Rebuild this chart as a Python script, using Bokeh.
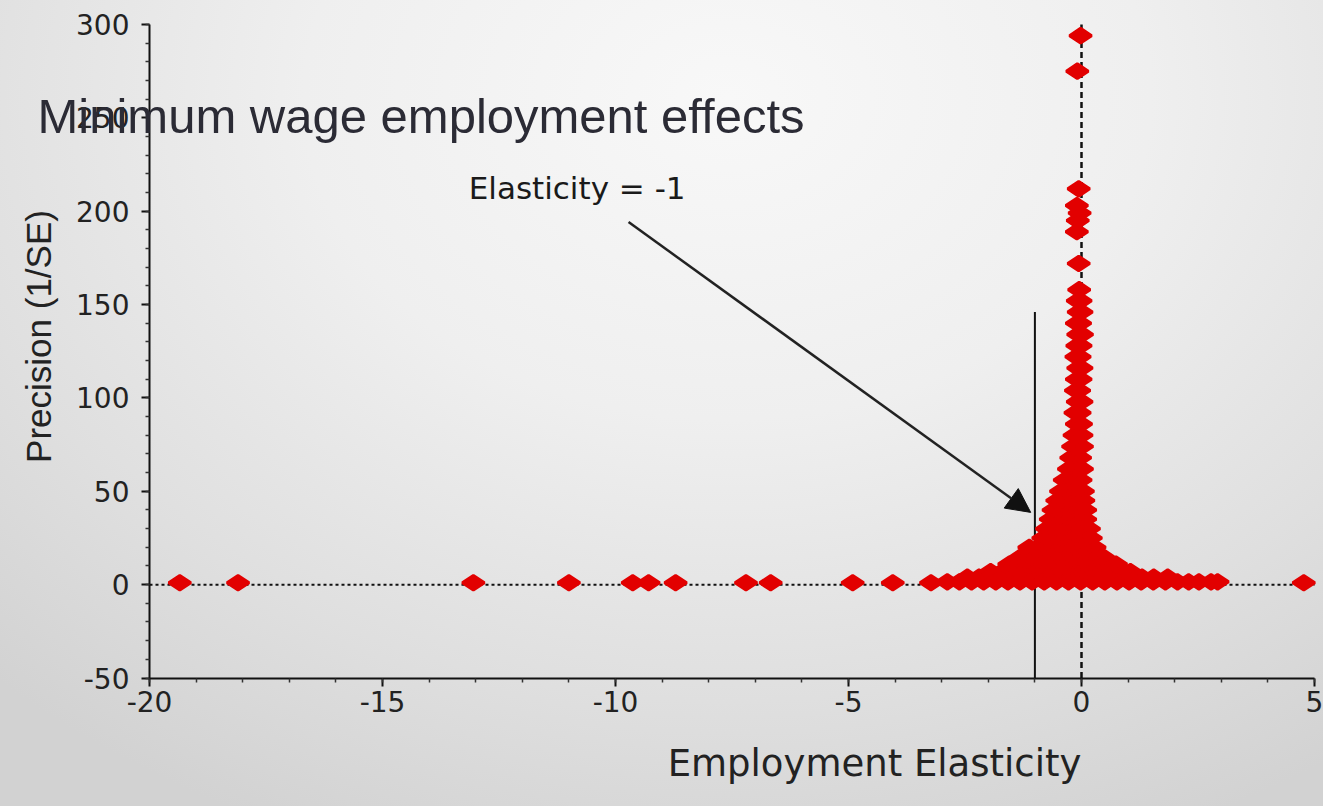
import math

from bokeh.embed import file_html
from bokeh.models import (Arrow, ColumnDataSource, Label, NormalHead,
                          PrintfTickFormatter, Range1d, SingleIntervalTicker)
from bokeh.plotting import figure
from bokeh.resources import INLINE

# ---- estimates: employment elasticity (x) vs precision 1/SE (y) ----
# isolated estimates lying along the zero-precision line
outlier_x = [-19.35, -18.1, -13.05, -11.0, -9.63, -9.29, -8.71, -7.2, -6.67,
             -4.91, -4.05, -3.23, 4.77]
outlier_y = [1, 1, 1, 1, 1, 1, 1, 1, 1, 1, 1, 1, 1]

# high-precision spike just below zero
spike_x = [-0.02, -0.09, -0.06, -0.1, -0.04, -0.08, -0.1, -0.06, -0.05]
spike_y = [294, 275, 212, 203, 199, 195, 189, 172, 158]

# the dense funnel, listed by precision level
funnel_rows = [
    (152, [-0.08, -0.02]),
    (146, [-0.06, 0.0]),
    (140, [-0.1, -0.03]),
    (134, [-0.07, 0.01]),
    (128, [-0.09, -0.02]),
    (122, [-0.11, -0.04]),
    (116, [-0.07, 0.0]),
    (110, [-0.1, -0.02]),
    (104, [-0.12, -0.05]),
    (98, [-0.08, 0.0]),
    (92, [-0.13, -0.04]),
    (86, [-0.1, -0.01]),
    (80, [-0.15, -0.06, 0.0]),
    (74, [-0.18, -0.08, 0.01]),
    (68, [-0.22, -0.12, -0.03]),
    (62, [-0.27, -0.15, -0.04, 0.01]),
    (56, [-0.36, -0.24, -0.12, -0.02]),
    (50, [-0.44, -0.3, -0.17, -0.05, 0.03]),
    (45, [-0.52, -0.38, -0.24, -0.1, 0.04]),
    (40, [-0.6, -0.45, -0.3, -0.16, -0.02, 0.08]),
    (35, [-0.66, -0.5, -0.35, -0.2, -0.06, 0.08]),
    (30, [-0.74, -0.58, -0.42, -0.26, -0.1, 0.04, 0.16]),
    (25, [-0.82, -0.65, -0.48, -0.31, -0.14, 0.02, 0.2]),
    (20, [-1.12, -0.92, -0.72, -0.52, -0.32, -0.12, 0.08, 0.28]),
    (15, [-1.3, -1.08, -0.86, -0.64, -0.42, -0.2, 0.02, 0.24, 0.46]),
    (11, [-1.55, -1.32, -1.09, -0.86, -0.63, -0.4, -0.17, 0.06, 0.29, 0.52,
          0.74]),
    (7, [-1.95, -1.7, -1.45, -1.2, -0.95, -0.7, -0.45, -0.2, 0.05, 0.3, 0.55,
         0.8, 1.05]),
    (4, [-2.45, -2.2, -1.95, -1.7, -1.45, -1.2, -0.95, -0.7, -0.45, -0.2, 0.05,
         0.3, 0.55, 0.8, 1.05, 1.3, 1.55, 1.85]),
    (1.5, [-2.88, -2.62, -2.36, -2.1, -1.84, -1.58, -1.32, -1.06, -0.8, -0.54,
           -0.28, -0.02, 0.24, 0.5, 0.76, 1.02, 1.28, 1.54, 1.8, 2.06, 2.3,
           2.52, 2.78, 2.92]),
]

# reference line at elasticity = -1 and its annotation
unit_x = [-1.0]
unit_y0 = [-50]
unit_y1 = [146]
arrow_from = (-9.72, 194.2)
arrow_to = (-1.09, 38.7)
note_pos = (-13.15, 212.4)

# axis extents
x_lo, x_hi = -20, 5
y_lo, y_hi = -50, 300

# ---- page geometry (pixels) ----
W, H = 1323, 806
ax_left, ax_right = 149, 1314      # x = -20 .. 5
ax_top, ax_bottom = 24, 677.5      # y = 300 .. -50

# the frame fills the whole canvas; the axes sit at fixed data positions
kx = (x_hi - x_lo) / (ax_right - ax_left)
ky = (y_hi - y_lo) / (ax_bottom - ax_top)
xr = Range1d(x_lo - ax_left * kx, x_hi + (W - ax_right) * kx)
yr = Range1d(y_lo - (H - ax_bottom) * ky, y_hi + ax_top * ky)

xs, ys = list(outlier_x) + list(spike_x), list(outlier_y) + list(spike_y)
for yv, row in funnel_rows:
    xs.extend(row)
    ys.extend([yv] * len(row))
src = ColumnDataSource(data=dict(x=xs, y=ys))

p = figure(width=W, height=H, output_backend="svg", toolbar_location=None,
           x_range=xr, y_range=yr, min_border=0)
p.background_fill_alpha = 0
p.border_fill_alpha = 0
p.outline_line_color = None
p.grid.visible = False
p.styles = {"background": "radial-gradient(ellipse 80% 100% at 55% 12%, "
                          "#f8f8f8 0%, #efefef 40%, #dfdfdf 75%, #d2d2d2 100%)"}

p.xaxis.ticker = SingleIntervalTicker(interval=5, num_minor_ticks=5)
p.yaxis.ticker = SingleIntervalTicker(interval=50, num_minor_ticks=5)
p.xaxis.fixed_location = y_lo
p.yaxis.fixed_location = x_lo
p.xaxis.bounds = (x_lo, x_hi)
p.yaxis.bounds = (y_lo, y_hi)
for ax in (p.xaxis, p.yaxis):
    ax.formatter = PrintfTickFormatter(format="%d")
    ax.axis_line_color = "#111111"
    ax.axis_line_width = 2
    ax.major_tick_line_color = "#111111"
    ax.major_tick_line_width = 2
    ax.major_tick_in = 0
    ax.major_tick_out = 8
    ax.minor_tick_line_color = "#333333"
    ax.minor_tick_line_width = 1.5
    ax.minor_tick_in = 0
    ax.minor_tick_out = 4
    ax.major_label_text_font = "DejaVu Sans"
    ax.major_label_text_font_size = "28px"
    ax.major_label_text_color = "#222222"
p.xaxis.major_label_standoff = 5
p.yaxis.major_label_standoff = 12

# reference lines through zero
p.segment(x0=[x_lo], y0=[0], x1=[x_hi], y1=[0], line_color="#111111",
          line_width=2, line_dash="3 3")
p.segment(x0=[0], y0=[y_lo], x1=[0], y1=[y_hi], line_color="#111111",
          line_width=2.5, line_dash="6 4")
p.segment(x0=unit_x, y0=unit_y0, x1=unit_x, y1=unit_y1,
          line_color="#111111", line_width=2)

p.scatter("x", "y", source=src, marker="diamond", size=22,
          angle=math.pi / 2, fill_color="#e20000", line_color="#e20000",
          line_width=3)

p.add_layout(Arrow(end=NormalHead(size=24, fill_color="#111111",
                                  line_color="#111111"),
                   x_start=arrow_from[0], y_start=arrow_from[1],
                   x_end=arrow_to[0], y_end=arrow_to[1],
                   line_color="#222222", line_width=2.5))
p.add_layout(Label(x=note_pos[0], y=note_pos[1], text="Elasticity = -1",
                   text_font="DejaVu Sans", text_font_size="31px",
                   text_color="#1a1a1a", text_baseline="middle"))

# axis titles
p.add_layout(Label(x=874, y=H - 763, x_units="screen", y_units="screen",
                   text="Employment Elasticity", text_align="center",
                   text_baseline="middle", text_font="DejaVu Sans",
                   text_font_size="37px", text_color="#222222"))
p.add_layout(Label(x=38, y=H - 336, x_units="screen", y_units="screen",
                   text="Precision (1/SE)", angle=math.pi / 2,
                   text_align="center", text_baseline="middle",
                   text_font="Liberation Sans", text_font_size="35px",
                   text_color="#222222"))

# chart title, overlapping the left axis
p.add_layout(Label(x=37, y=H - 115, x_units="screen", y_units="screen",
                   text="Minimum wage employment effects",
                   text_font="Liberation Sans", text_font_size="49px",
                   text_color="#2b2b35", text_baseline="alphabetic"))

open("out.html", "w").write(file_html(p, INLINE))
